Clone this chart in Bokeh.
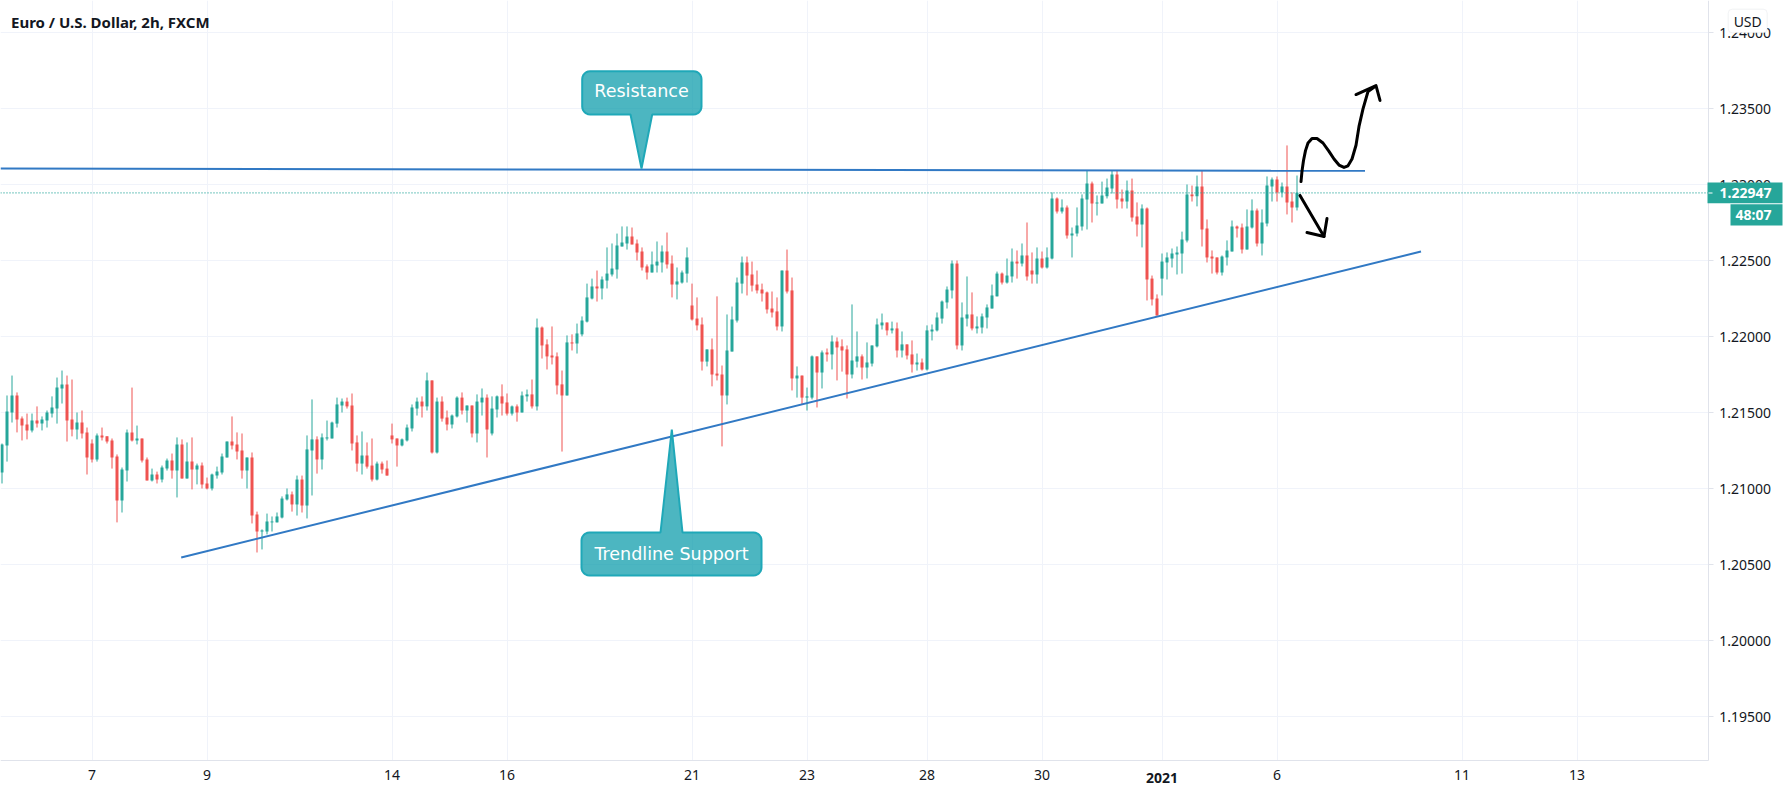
from bokeh.plotting import figure
from bokeh.models import (BoxAnnotation, FixedTicker, Label, LinearAxis, NumeralTickFormatter, Range1d)
from bokeh.embed import file_html
from bokeh.resources import INLINE
import numpy as np

# EUR/USD 2h candles, prices in points (1e-5)
open_pts = [
121107,121285,121502,121614,121462,121423,121384,121449,121429,121449,
121495,121528,121660,121687,121456,121390,121436,121371,121298,121193,
121351,121345,121318,121212,120923,121120,121371,121318,121331,121193,
121055,121094,121061,121133,121186,121120,121292,121067,121179,121127,
121153,121035,121002,121087,121107,121206,121311,121292,121252,121120,
121206,120831,120719,120719,120779,120779,120811,120930,120963,120897,
121061,120890,121252,121325,121193,121331,121331,121429,121548,121574,
121548,121305,121166,121219,121153,121061,121166,121133,121351,121331,
121285,121318,121397,121528,121574,121542,121713,121239,121574,121469,
121423,121476,121600,121515,121548,121364,121568,121600,121364,121522,
121608,121568,121495,121542,121502,121608,121621,121542,122061,121950,
121877,121871,121687,121614,121963,121956,122016,122100,122252,122331,
122318,122370,122410,122443,122594,122614,122660,122614,122561,122463,
122423,122469,122489,122561,122482,122344,122357,122416,122206,122120,
122081,121837,121917,121758,121752,121614,121903,122107,122350,122489,
122410,122344,122311,122292,122186,122167,122068,122436,122305,121726,
121745,121600,121600,121871,121765,121897,121884,121969,121937,121917,
121752,121837,121871,121798,121824,121937,122075,122094,122042,122055,
121910,121950,121884,121818,121831,121785,122035,122042,122120,122226,
122305,122482,121943,122120,122147,122055,122061,122127,122186,122266,
122416,122357,122397,122495,122482,122535,122436,122410,122515,122456,
122515,122910,122824,122851,122666,122679,122726,122904,123008,122877,
122877,122924,122975,123068,122910,122890,122963,122792,122739,122844,
122383,122252,122383,122489,122515,122542,122548,122634,122937,122924,
122989,122712,122528,122522,122423,122522,122561,122726,122719,122574,
122719,122831,122614,122745,122989,123035,122950,122989,122890,122851]
high_pts = [
121298,121614,121745,121634,121476,121495,121495,121542,121476,121515,
121608,121732,121778,121745,121719,121502,121515,121403,121325,121364,
121403,121345,121331,121226,121140,121390,121666,121416,121331,121206,
121133,121113,121153,121199,121232,121338,121325,121305,121338,121166,
121173,121074,121100,121146,121232,121311,121476,121371,121364,121206,
121239,120850,120733,120837,120818,120844,120950,121002,120982,121087,
121087,121351,121588,121345,121364,121449,121442,121600,121594,121600,
121627,121351,121377,121305,121331,121179,121179,121186,121429,121331,
121331,121423,121555,121600,121608,121765,121713,121600,121608,121515,
121489,121608,121634,121548,121548,121621,121660,121621,121608,121614,
121687,121627,121548,121555,121640,121653,121719,122120,122068,121983,
122068,121897,121778,122009,122016,122087,122134,122350,122383,122436,
122397,122588,122614,122679,122726,122726,122719,122640,122588,122476,
122561,122627,122601,122686,122535,122456,122436,122588,122350,122259,
122127,121917,121989,122266,121811,122147,122199,122390,122528,122528,
122495,122436,122350,122298,122298,122259,122436,122574,122390,121805,
121745,121666,121877,121871,121910,121923,122009,121996,121983,121943,
122213,122035,121884,121963,121943,122120,122153,122094,122100,122094,
122035,121950,121976,121890,121857,122075,122081,122160,122239,122331,
122502,122502,122226,122397,122292,122134,122153,122213,122344,122429,
122423,122515,122581,122568,122614,122752,122555,122588,122561,122588,
122950,122917,122904,122864,122719,122851,122937,123094,123021,122930,
123021,123041,123094,123094,122969,123028,123041,122884,122871,122851,
122403,122279,122548,122555,122581,122594,122692,123002,122995,123061,
123094,122772,122568,122522,122535,122634,122765,122732,122745,122838,
122904,122844,122838,123055,123048,123055,123015,123259,122950,123061]
low_pts = [
121035,121179,121436,121371,121318,121325,121371,121403,121384,121403,
121469,121429,121561,121311,121345,121325,121331,121094,121173,121179,
121318,121298,121133,120779,120844,121048,121311,121292,121173,121055,
121048,121035,121042,121120,121067,120943,121067,121067,120996,121029,
121002,120996,120989,121067,121094,121206,121259,121193,121067,121002,
120772,120581,120601,120700,120719,120779,120805,120923,120850,120824,
120844,120805,120956,121100,121127,121318,121331,121403,121502,121528,
121252,121113,121094,121133,121048,121055,121100,121087,121298,121146,
121279,121311,121377,121482,121469,121515,121232,121232,121442,121384,
121397,121469,121489,121436,121338,121305,121482,121206,121351,121469,
121482,121482,121482,121442,121502,121574,121528,121515,121857,121785,
121818,121621,121245,121614,121910,121890,122003,122094,122246,122232,
122246,122318,122397,122383,122594,122574,122608,122502,122436,122377,
122423,122423,122423,122449,122259,122246,122350,122357,122107,122042,
121778,121805,121674,121713,121279,121555,121903,122094,122285,122272,
122298,122285,122232,122153,122127,122042,122035,122285,121647,121600,
121555,121515,121588,121535,121660,121837,121785,121713,121771,121594,
121726,121798,121719,121726,121805,121930,122048,122009,122022,121864,
121864,121851,121765,121778,121778,121778,121976,122035,122087,122186,
122252,121917,121910,122068,122042,122022,122022,122055,122186,122266,
122344,122350,122357,122383,122463,122370,122350,122350,122449,122449,
122509,122811,122811,122646,122522,122660,122699,122706,122752,122798,
122877,122910,122943,122844,122844,122844,122758,122660,122588,122239,
122206,122140,122272,122377,122456,122410,122416,122621,122890,122858,
122594,122489,122416,122410,122403,122469,122561,122653,122548,122574,
122712,122594,122535,122726,122890,122890,122917,122805,122752,122831]
close_pts = [
121292,121509,121614,121456,121416,121384,121449,121429,121456,121502,
121535,121666,121687,121449,121390,121436,121364,121206,121193,121351,
121338,121311,121206,120923,121127,121371,121318,121331,121186,121055,
121094,121061,121140,121186,121120,121292,121067,121179,121127,121153,
121029,121002,121094,121113,121212,121311,121285,121245,121120,121206,
120824,120719,120726,120785,120785,120818,120936,120963,120897,121061,
120890,121259,121325,121193,121338,121338,121436,121555,121574,121542,
121298,121166,121219,121146,121061,121166,121127,121087,121325,121285,
121325,121403,121535,121574,121542,121713,121239,121574,121462,121423,
121482,121600,121515,121548,121364,121574,121600,121390,121528,121608,
121561,121495,121542,121502,121614,121621,121542,122061,121943,121871,
121864,121680,121614,121963,121956,122022,122107,122259,122331,122318,
122377,122416,122449,122601,122621,122660,122608,122555,122456,122423,
122476,122495,122561,122476,122344,122364,122423,122522,122114,122075,
121837,121917,121752,121745,121614,121910,122114,122357,122489,122403,
122337,122305,122285,122180,122160,122068,122436,122298,121726,121745,
121600,121608,121871,121765,121897,121884,121969,121930,121910,121752,
121844,121871,121798,121831,121943,122081,122094,122042,122055,121910,
121950,121877,121818,121831,121785,122042,122048,122127,122232,122311,
122482,121943,122127,122147,122055,122068,122134,122193,122272,122416,
122357,122403,122495,122482,122535,122397,122410,122515,122456,122522,
122910,122824,122851,122666,122679,122732,122910,123008,122877,122884,
122930,122982,123068,122904,122890,122963,122785,122739,122844,122377,
122246,122140,122495,122522,122548,122555,122640,122937,122924,122989,
122706,122522,122515,122423,122528,122568,122726,122712,122574,122726,
122831,122614,122752,122995,123035,122950,122989,122884,122851,122947]

date_ticks = [18, 41, 78, 101, 138, 161, 185, 208, 232, 255, 292, 315]
date_labels = ["7", "9", "14", "16", "21", "23", "28", "30", "2021", "6", "11", "13"]
price_ticks = [1.195, 1.20, 1.205, 1.21, 1.215, 1.22, 1.225, 1.23, 1.235, 1.24]

# drawings, in (bar, price points)
resistance_bar, resistance_pts = [-0.3, 272.6], [123107, 123092]
support_bar, support_pts = [35.84, 283.8], [120548, 122561]
up_bar = [259.8, 260.0, 260.3, 260.7, 261.2, 262.0, 263.0, 264.2, 265.4, 266.4, 267.4, 268.4, 269.2, 270.0, 270.8, 271.4, 272.2, 273.2, 274.6]
up_pts = [123021, 123090, 123160, 123225, 123275, 123305, 123305, 123275, 123220, 123170, 123130, 123114, 123125, 123170, 123260, 123384, 123500, 123614, 123647]
up_head_bar, up_head_pts = [270.8, 274.8, 275.6], [123594, 123653, 123555]
down_bar, down_pts = [259.6, 262.0, 264.4], [122930, 122795, 122660]
down_head_bar, down_head_pts = [261.0, 264.4, 265.0], [122686, 122660, 122778]

GREEN, RED = "#26a69a", "#ef5350"
GRID, BORDER, TEXT = "#f0f3fa", "#e0e3eb", "#131722"
BLUE, TEAL = "#3179c4", "#0097a7"

# the frame fills the page: 1787 x 793 px; 5 px per bar, 15200 px per unit of price
X0, X1 = -0.3, -0.3 + 1787 / 5
Y1 = 1.242125
Y0 = Y1 - 793 / 15200

def sx(px):
    return (px - 1.5) / 5

def sy(px):
    return Y1 - px / 15200

AXIS_X, AXIS_Y = sx(1707.7), sy(760)

o, h, l, c = [np.array(a) / 1e5 for a in (open_pts, high_pts, low_pts, close_pts)]
bars = np.arange(len(o))
up = c >= o
colors = [GREEN if u else RED for u in up]

p = figure(width=1787, height=793, output_backend="svg", toolbar_location=None,
           x_range=Range1d(X0, X1), y_range=Range1d(Y0, Y1),
           min_border_left=0, min_border_top=0, min_border_right=0, min_border_bottom=0,
           x_axis_location=None, y_axis_location=None, outline_line_color=None)

# axes and grid
xa = LinearAxis(ticker=FixedTicker(ticks=date_ticks), fixed_location=AXIS_Y, bounds=(X0, AXIS_X))
xa.major_label_overrides = {t: ("" if s == "2021" else s) for t, s in zip(date_ticks, date_labels)}
xa.axis_line_color = BORDER
xa.major_tick_out = 0
xa.major_tick_in = 0
xa.minor_tick_out = 0
xa.minor_tick_in = 0
xa.major_label_standoff = 9
xa.major_label_text_font = "Noto Sans"
xa.major_label_text_font_size = "14px"
xa.major_label_text_color = TEXT
p.add_layout(xa, "below")

ya = LinearAxis(ticker=FixedTicker(ticks=price_ticks), formatter=NumeralTickFormatter(format="0.00000"),
                fixed_location=AXIS_X, bounds=(AXIS_Y, Y1))
ya.axis_line_color = BORDER
ya.major_tick_line_color = BORDER
ya.major_tick_out = 5
ya.major_tick_in = 0
ya.minor_tick_out = 0
ya.minor_tick_in = 0
ya.major_label_standoff = 6
ya.major_label_text_font = "Noto Sans"
ya.major_label_text_font_size = "14px"
ya.major_label_text_color = TEXT
p.add_layout(ya, "right")

p.xgrid.grid_line_color = GRID
p.xgrid.ticker = FixedTicker(ticks=date_ticks)
p.ygrid.grid_line_color = GRID
p.ygrid.ticker = FixedTicker(ticks=price_ticks)

# white scale strips hide the grid outside the chart pane
p.quad(left=[AXIS_X, X0], right=[X1, AXIS_X], top=[Y1, AXIS_Y], bottom=[Y0, Y0],
       fill_color="#ffffff", line_color=None)

# candles
p.segment(bars, h, bars, l, line_color=colors, line_width=1)
p.vbar(bars, width=0.6, top=np.maximum(o, c), bottom=np.minimum(o, c), fill_color=colors, line_color=None)

# last price line
p.line([X0, AXIS_X], [c[-1], c[-1]], line_color=GREEN, line_width=1.2, line_dash=[1, 2])

# trendlines
p.line(resistance_bar, np.array(resistance_pts) / 1e5, line_color=BLUE, line_width=2)
p.line(support_bar, np.array(support_pts) / 1e5, line_color=BLUE, line_width=2)

# hand-drawn arrows
for xs, ys in ((up_bar, up_pts), (up_head_bar, up_head_pts), (down_bar, down_pts), (down_head_bar, down_head_pts)):
    p.line(xs, np.array(ys) / 1e5, line_color="#000000", line_width=3, line_cap="round", line_join="round")

# callouts
def callout(left, right, top, bottom, tip_x, tip_y, base_l, base_r, pointer_down):
    rx, ry = 8 / 5, 8 / 15200
    t = np.linspace(0, np.pi / 2, 7)
    xs, ys = [], []
    # clockwise from the top-left corner
    xs += list(left + rx - rx * np.cos(t)); ys += list(top - ry + ry * np.sin(t))
    if not pointer_down:
        xs += [base_l, tip_x, base_r]; ys += [top, tip_y, top]
    xs += list(right - rx + rx * np.sin(t)); ys += list(top - ry + ry * np.cos(t))
    xs += list(right - rx + rx * np.cos(t)); ys += list(bottom + ry - ry * np.sin(t))
    if pointer_down:
        xs += [base_r, tip_x, base_l]; ys += [bottom, tip_y, bottom]
    xs += list(left + rx - rx * np.sin(t)); ys += list(bottom + ry - ry * np.cos(t))
    p.patch(xs, ys, fill_color=TEAL, fill_alpha=0.7, line_color="#1fa8b8", line_width=2)

callout(sx(581.7), sx(701), sy(70.7), sy(114), sx(641), sy(168), sx(630), sx(651.7), True)
callout(sx(581), sx(761), sy(532), sy(575), sx(671.3), sy(429), sx(660), sx(682), False)

def text(x, y, s, font="Noto Sans", size="14px", color=TEXT, style="normal", align="left"):
    p.add_layout(Label(x=sx(x), y=sy(y), text=s, text_font=font, text_font_size=size, text_color=color,
                       text_font_style=style, text_align=align, text_baseline="middle"))

# price scale chrome
def box(left, right, top, bottom, color, border=None, radius=0):
    p.add_layout(BoxAnnotation(left=sx(left), right=sx(right), top=sy(top), bottom=sy(bottom), fill_color=color,
                               fill_alpha=1, line_color=border, line_width=1, border_radius=radius))

box(1707, 1782, 182, 202.7, GREEN)
box(1730, 1782, 203.7, 225, GREEN)
box(1708, 1712, 192, 193, "#ffffff")
box(1727.7, 1766.7, 8.7, 32.3, "#ffffff", "#d1d4dc", 4)

text(641, 90, "Resistance", "DejaVu Sans", "17.5px", "#ffffff", align="center")
text(671, 553.5, "Trendline Support", "DejaVu Sans", "17.5px", "#ffffff", align="center")
text(10.5, 21, "Euro / U.S. Dollar, 2h, FXCM", size="15px", style="bold")
text(1161.5, 777, "2021", style="bold", align="center")
text(1719, 192.5, "1.22947", size="14px", color="#ffffff", style="bold")
text(1735, 214, "48:07", size="14px", color="#ffffff", style="bold")
text(1747.2, 20.5, "USD", size="14px", align="center")

open("out.html", "w").write(file_html(p, INLINE))
